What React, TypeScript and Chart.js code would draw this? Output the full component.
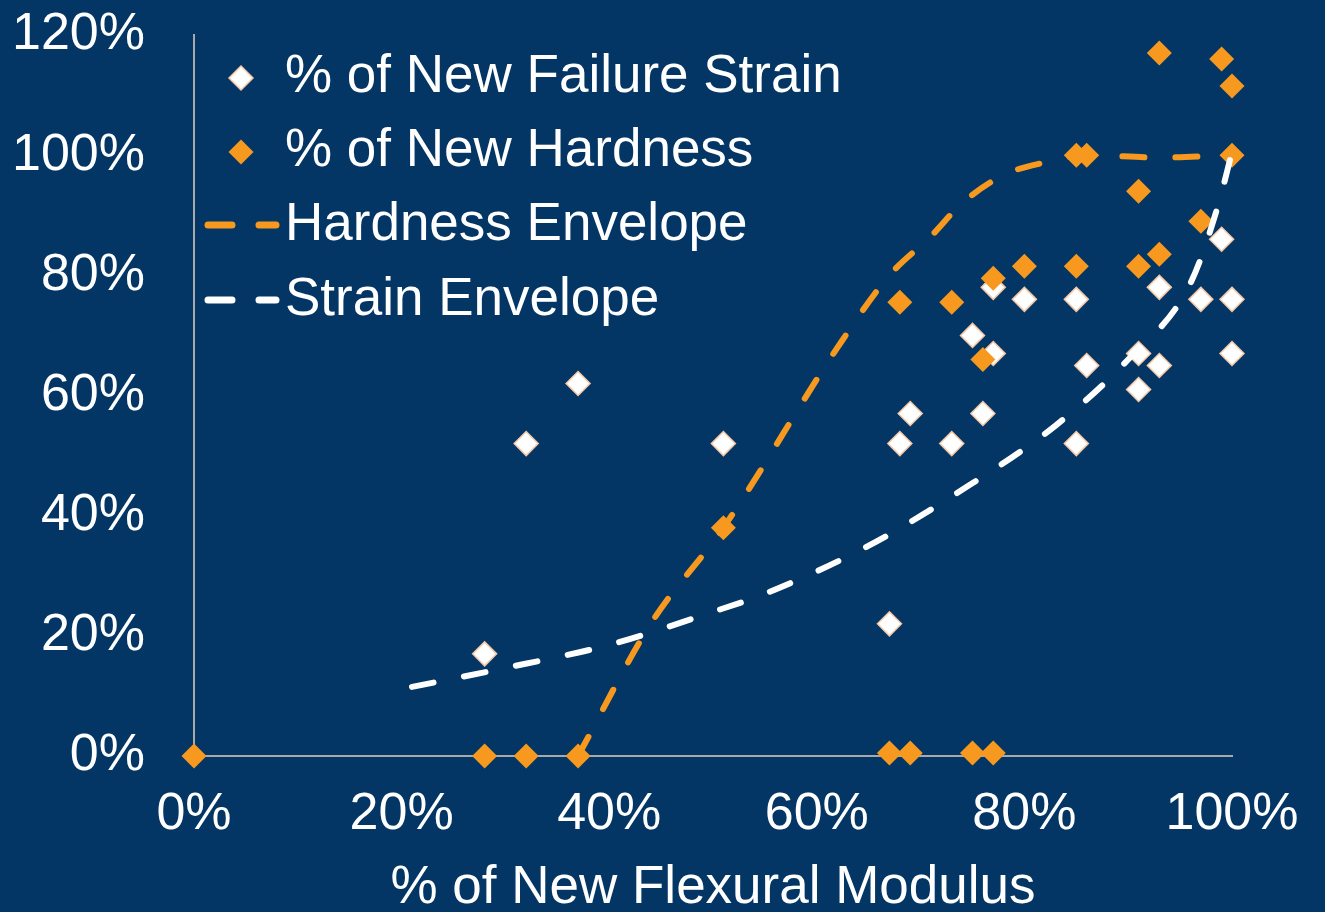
import React, { useEffect, useRef } from "react";
import { Chart, registerables } from "chart.js";

Chart.register(...registerables);

const FONT = "'Liberation Sans', Arial, Helvetica, sans-serif";
const NAVY = "#033664";
const ORANGE = "#F7991F";
const WHITE = "#FFFFFF";
const PEACH = "#F6C8A6";
const AXIS_GRAY = "#A9A9A9";

// % of new flexural modulus vs. % of new failure strain
const strainX = [28, 32, 37, 51, 67, 68, 69, 73, 75, 76, 77, 77, 80, 85, 85, 86, 91, 91, 93, 93, 97, 99, 100, 100];
const strainY = [17, 52, 62, 52, 22, 52, 57, 52, 70, 57, 67, 78, 76, 76, 52, 65, 67, 61, 65, 78, 76, 86, 76, 67];

// % of new flexural modulus vs. % of new hardness
const hardnessX = [0, 28, 32, 37, 51, 67, 69, 75, 77, 68, 73, 76, 77, 80, 85, 85, 86, 91, 91, 93, 93, 97, 99, 100, 100];
const hardnessY = [0, 0, 0, 0, 38, 0.5, 0.5, 0.5, 0.5, 75.5, 75.5, 66, 79.5, 81.5, 81.5, 100, 100, 94, 81.5, 83.5, 117, 89, 116, 111.5, 100];

// Envelope curves
const hardEnvX = [37, 44, 51, 62, 67, 71, 74, 78, 82, 86, 93, 100];
const hardEnvY = [0, 22, 38, 68, 80, 86.5, 92, 96.7, 98.8, 100, 99.6, 100];
const strainEnvX = [21, 29, 40, 50, 55, 65, 74, 83, 90, 96, 98.6, 100];
const strainEnvY = [11.5, 14.3, 18.5, 24, 27, 35, 44.3, 55, 66, 78.7, 91.3, 100.5];

const seriesLabels = ["% of New Failure Strain", "% of New Hardness", "Hardness Envelope", "Strain Envelope"];
const xTitle = "% of New Flexural Modulus";

const toPoints = (xs: number[], ys: number[]) => xs.map((x, i) => ({ x, y: ys[i] }));

function diamond(ctx: CanvasRenderingContext2D, x: number, y: number, r: number) {
  ctx.beginPath();
  ctx.moveTo(x - r, y);
  ctx.lineTo(x, y - r);
  ctx.lineTo(x + r, y);
  ctx.lineTo(x, y + r);
  ctx.closePath();
}

const insideLegend = {
  id: "insideLegend",
  afterDraw(chart: any) {
    const ctx: CanvasRenderingContext2D = chart.ctx;
    const rows = [77, 151, 225, 300];
    const markX = 241;
    const textX = 285;
    ctx.save();
    // markers
    diamond(ctx, markX, rows[0] + 1, 12);
    ctx.fillStyle = WHITE;
    ctx.fill();
    ctx.lineWidth = 1.5;
    ctx.strokeStyle = PEACH;
    ctx.stroke();
    diamond(ctx, markX, rows[1] + 1, 12.5);
    ctx.fillStyle = ORANGE;
    ctx.fill();
    // dashed line samples
    ctx.lineWidth = 7;
    ctx.lineCap = "round";
    [[rows[2], ORANGE], [rows[3], WHITE]].forEach(([y, c]) => {
      ctx.strokeStyle = c as string;
      ctx.beginPath();
      ctx.moveTo(208, y as number);
      ctx.lineTo(232, y as number);
      ctx.moveTo(259, y as number);
      ctx.lineTo(276, y as number);
      ctx.stroke();
    });
    // labels
    ctx.font = `53px ${FONT}`;
    ctx.textBaseline = "middle";
    ctx.textAlign = "left";
    ctx.fillStyle = WHITE;
    seriesLabels.forEach((t, i) => ctx.fillText(t, textX, rows[i]));
    ctx.restore();
  },
};

export default function App() {
  const canvasRef = useRef<HTMLCanvasElement | null>(null);

  useEffect(() => {
    if (!canvasRef.current) return;
    const chart = new Chart(canvasRef.current, {
      type: "scatter",
      data: {
        datasets: [
          {
            label: seriesLabels[3],
            data: toPoints(strainEnvX, strainEnvY),
            showLine: true,
            borderColor: WHITE,
            borderWidth: 6,
            borderDash: [22, 31],
            borderCapStyle: "round",
            cubicInterpolationMode: "monotone",
            pointRadius: 0,
            order: 0,
            clip: false,
          },
          {
            label: seriesLabels[2],
            data: toPoints(hardEnvX, hardEnvY),
            showLine: true,
            borderColor: ORANGE,
            borderWidth: 6,
            borderDash: [22, 31],
            borderCapStyle: "round",
            cubicInterpolationMode: "monotone",
            pointRadius: 0,
            order: 1,
            clip: false,
          },
          {
            label: seriesLabels[1],
            data: toPoints(hardnessX, hardnessY),
            pointStyle: "rectRot",
            pointRadius: 12.5,
            backgroundColor: ORANGE,
            borderColor: ORANGE,
            borderWidth: 0,
            order: 2,
            clip: false,
          },
          {
            label: seriesLabels[0],
            data: toPoints(strainX, strainY),
            pointStyle: "rectRot",
            pointRadius: 12,
            backgroundColor: WHITE,
            borderColor: PEACH,
            borderWidth: 1.5,
            order: 3,
            clip: false,
          },
        ],
      },
      options: {
        animation: false,
        responsive: false,
        maintainAspectRatio: false,
        layout: { padding: { top: 35, right: 93, left: 0, bottom: 0 } },
        plugins: {
          legend: { display: false },
          tooltip: { enabled: false },
        },
        scales: {
          x: {
            type: "linear",
            min: 0,
            max: 100,
            afterFit: (s: any) => {
              s.height = 156;
              s.paddingLeft = 0;
              s.paddingRight = 0;
            },
            ticks: {
              stepSize: 20,
              padding: 27,
              color: WHITE,
              font: { family: FONT, size: 52 },
              callback: (v: any) => `${v}%`,
            },
            grid: { display: true, color: "rgba(0,0,0,0)", drawTicks: false },
            border: { display: true, color: AXIS_GRAY, width: 2 },
            title: {
              display: true,
              text: xTitle,
              color: WHITE,
              font: { family: FONT, size: 53, lineHeight: 0.9 },
              padding: { top: 0, bottom: 0 },
            },
          },
          y: {
            type: "linear",
            min: 0,
            max: 120,
            afterFit: (s: any) => {
              s.width = 194;
              s.paddingTop = 0;
              s.paddingBottom = 0;
            },
            ticks: {
              stepSize: 20,
              padding: 49,
              color: WHITE,
              font: { family: FONT, size: 52 },
              callback: (v: any) => `${v}%`,
            },
            grid: { display: true, color: "rgba(0,0,0,0)", drawTicks: false },
            border: { display: true, color: AXIS_GRAY, width: 2 },
          },
        },
      },
      plugins: [insideLegend],
    } as any);
    return () => chart.destroy();
  }, []);

  return (
    <div
      style={{
        position: "fixed",
        left: 0,
        top: 0,
        width: 1325,
        height: 912,
        background: NAVY,
        overflow: "hidden",
      }}
    >
      <canvas ref={canvasRef} width={1325} height={912} style={{ display: "block" }} />
    </div>
  );
}
